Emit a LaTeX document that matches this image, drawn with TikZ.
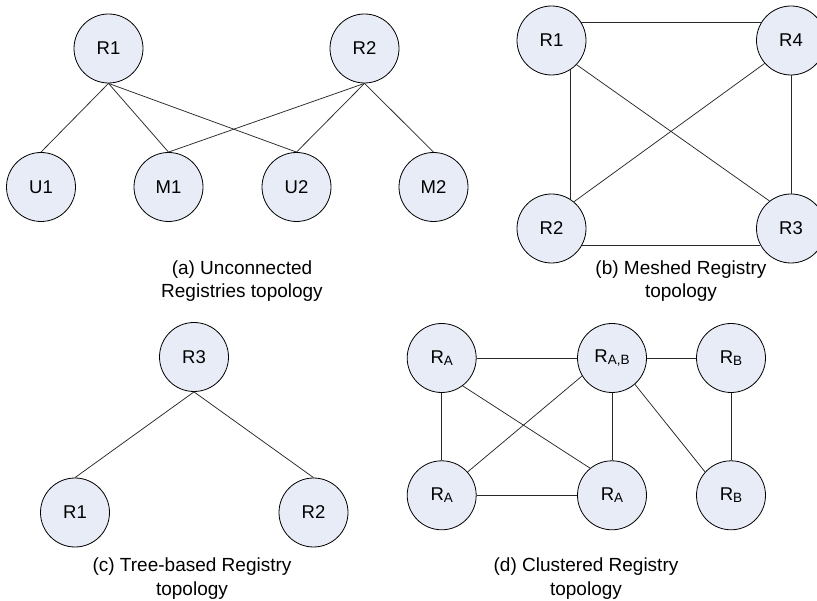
\documentclass[tikz,border=0pt]{standalone}
\usepackage{fontspec}
\setmainfont{Liberation Sans}
\definecolor{nodefill}{RGB}{232,236,247}
\definecolor{linkcol}{RGB}{40,40,40}
\newcommand{\regsub}[1]{\raisebox{-1.5pt}{\fontsize{13.5}{14}\selectfont #1}}
\begin{document}
\begin{tikzpicture}[x=1pt,y=-1pt,
  reg/.style={circle,draw=black,line width=0.8pt,fill=nodefill,minimum size=69pt,
    inner sep=0pt,font=\fontsize{18.5}{20}\selectfont},
  link/.style={draw=linkcol,line width=0.75pt},
  caption/.style={align=center,font=\fontsize{19}{23.5}\selectfont}]
\useasboundingbox (0,0) rectangle (817,601);

% (a) unconnected registries
\node[reg] (aR1) at (108.5,48.5) {R1};
\node[reg] (aR2) at (364.5,48.5) {R2};
\node[reg] (aU1) at (41,187) {U1};
\node[reg] (aM1) at (168.5,187) {M1};
\node[reg] (aU2) at (296.5,187) {U2};
\node[reg] (aM2) at (433.5,187) {M2};
\draw[link] (aR1.south) -- (aU1.north);
\draw[link] (aR1.south) -- (aM1.north);
\draw[link] (aR1.south) -- (aU2.north);
\draw[link] (aR2.south) -- (aM1.north);
\draw[link] (aR2.south) -- (aU2.north);
\draw[link] (aR2.south) -- (aM2.north);
\node[caption] (capa) at (242,281) {(a) Unconnected\\Registries topology};

% (b) meshed registries
\node[reg] (bR1) at (551.5,40.5) {R1};
\node[reg] (bR4) at (791,40.5) {R4};
\node[reg] (bR2) at (551.5,228.5) {R2};
\node[reg] (bR3) at (791,228.5) {R3};
\draw[link] (bR1.32) -- (bR4.148);
\draw[link] (bR1.-58) -- (bR2.58);
\draw[link] (bR2.-29) -- (bR3.209);
\draw[link] (bR4.south) -- (bR3.north);
\draw[link] (bR1.-44) -- (bR3.128);
\draw[link] (bR4.221) -- (bR2.50);
\node[caption] (capb) at (681,281) {(b) Meshed Registry\\topology};

% (c) tree-based registries
\node[reg] (cR3) at (194,357) {R3};
\node[reg] (cR1) at (75,512.5) {R1};
\node[reg] (cR2) at (313.5,512.5) {R2};
\draw[link] (cR3.south) -- (cR1.north);
\draw[link] (cR3.south) -- (cR2.north);
\node[caption] (capc) at (192,578.5) {(c) Tree-based Registry\\topology};

% (d) clustered registries
\node[reg] (dA1) at (441.7,358) {R\regsub{A}};
\node[reg] (dAB) at (612,358) {R\regsub{A,B}};
\node[reg] (dB1) at (731,358) {R\regsub{B}};
\node[reg] (dA2) at (441.7,495.3) {R\regsub{A}};
\node[reg] (dA3) at (612,495.3) {R\regsub{A}};
\node[reg] (dB2) at (731,495.3) {R\regsub{B}};
\draw[link] (dA1) -- (dAB);
\draw[link] (dAB) -- (dB1);
\draw[link] (dA1) -- (dA2);
\draw[link] (dA1.-53) -- (dA3.129);
\draw[link] (dAB.211) -- (dA2.42);
\draw[link] (dAB) -- (dA3);
\draw[link] (dAB.-49) -- (dB2.138);
\draw[link] (dB1) -- (dB2);
\draw[link] (dA2) -- (dA3);
\node[caption] (capd) at (586,578.5) {(d) Clustered Registry\\topology};
\end{tikzpicture}
\end{document}
